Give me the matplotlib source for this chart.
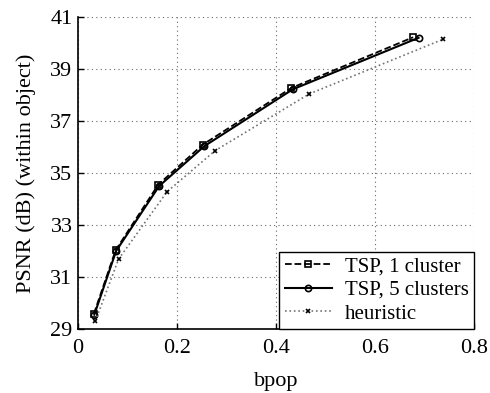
import numpy as np
import matplotlib.pyplot as plt

plt.rcParams['font.family'] = 'Liberation Serif'

# values
bpop_tsp1 = [0.032, 0.076, 0.162, 0.252, 0.431, 0.677]
psnr_tsp1 = [29.58, 32.03, 34.55, 36.09, 38.27, 40.22]
bpop_tsp5 = [0.033, 0.077, 0.164, 0.255, 0.434, 0.688]
psnr_tsp5 = [29.55, 32.00, 34.50, 36.03, 38.22, 40.20]
bpop_heur = [0.035, 0.082, 0.180, 0.277, 0.467, 0.737]
psnr_heur = [29.30, 31.69, 34.28, 35.86, 38.04, 40.14]

xticks = [0, 0.2, 0.4, 0.6, 0.8]
yticks = [29, 31, 33, 35, 37, 39, 41]

fig = plt.figure(figsize=(4.9, 3.93), dpi=100)
ax = fig.add_axes([78/490, 1 - 329/393, (474-78)/490, (329-17)/393])

ax.plot(bpop_tsp1, psnr_tsp1, '--', color='k', lw=1.3, marker='s', ms=4.5,
        mfc='none', mew=1.2, label='TSP, 1 cluster')
ax.plot(bpop_tsp5, psnr_tsp5, '-', color='k', lw=1.5, marker='o', ms=4.5,
        mfc='none', mew=1.2, label='TSP, 5 clusters')
ax.plot(bpop_heur, psnr_heur, ':', color='0.45', lw=1.2, marker='x', ms=3.5,
        mec='k', mew=1.2, label='heuristic')

ax.set_xlim(0, 0.8)
ax.set_ylim(29, 41)
ax.set_xticks(xticks)
ax.set_xticklabels(['0', '0.2', '0.4', '0.6', '0.8'])
ax.set_yticks(yticks)
ax.tick_params(direction='in', labelsize=16, length=4, width=1)
ax.tick_params(axis='x', pad=7)
ax.tick_params(axis='y', pad=4)
ax.grid(True, linestyle=(0, (1, 3)), color='0.4', lw=0.8)
ax.spines['top'].set_visible(False)
ax.spines['right'].set_visible(False)
for s in ['left', 'bottom']:
    ax.spines[s].set_linewidth(1.2)

ax.set_xlabel('bpop', fontsize=16, labelpad=10)
ax.set_ylabel('PSNR (dB) (within object)', fontsize=16, labelpad=10)

leg = ax.legend(loc='lower right', fontsize=15, frameon=True, fancybox=False,
                edgecolor='k', framealpha=1, borderaxespad=0, handlelength=2.3,
                labelspacing=0.2, handletextpad=0.6, borderpad=0.25)
leg.get_frame().set_linewidth(1.0)

fig.savefig('out.png', dpi=100)
